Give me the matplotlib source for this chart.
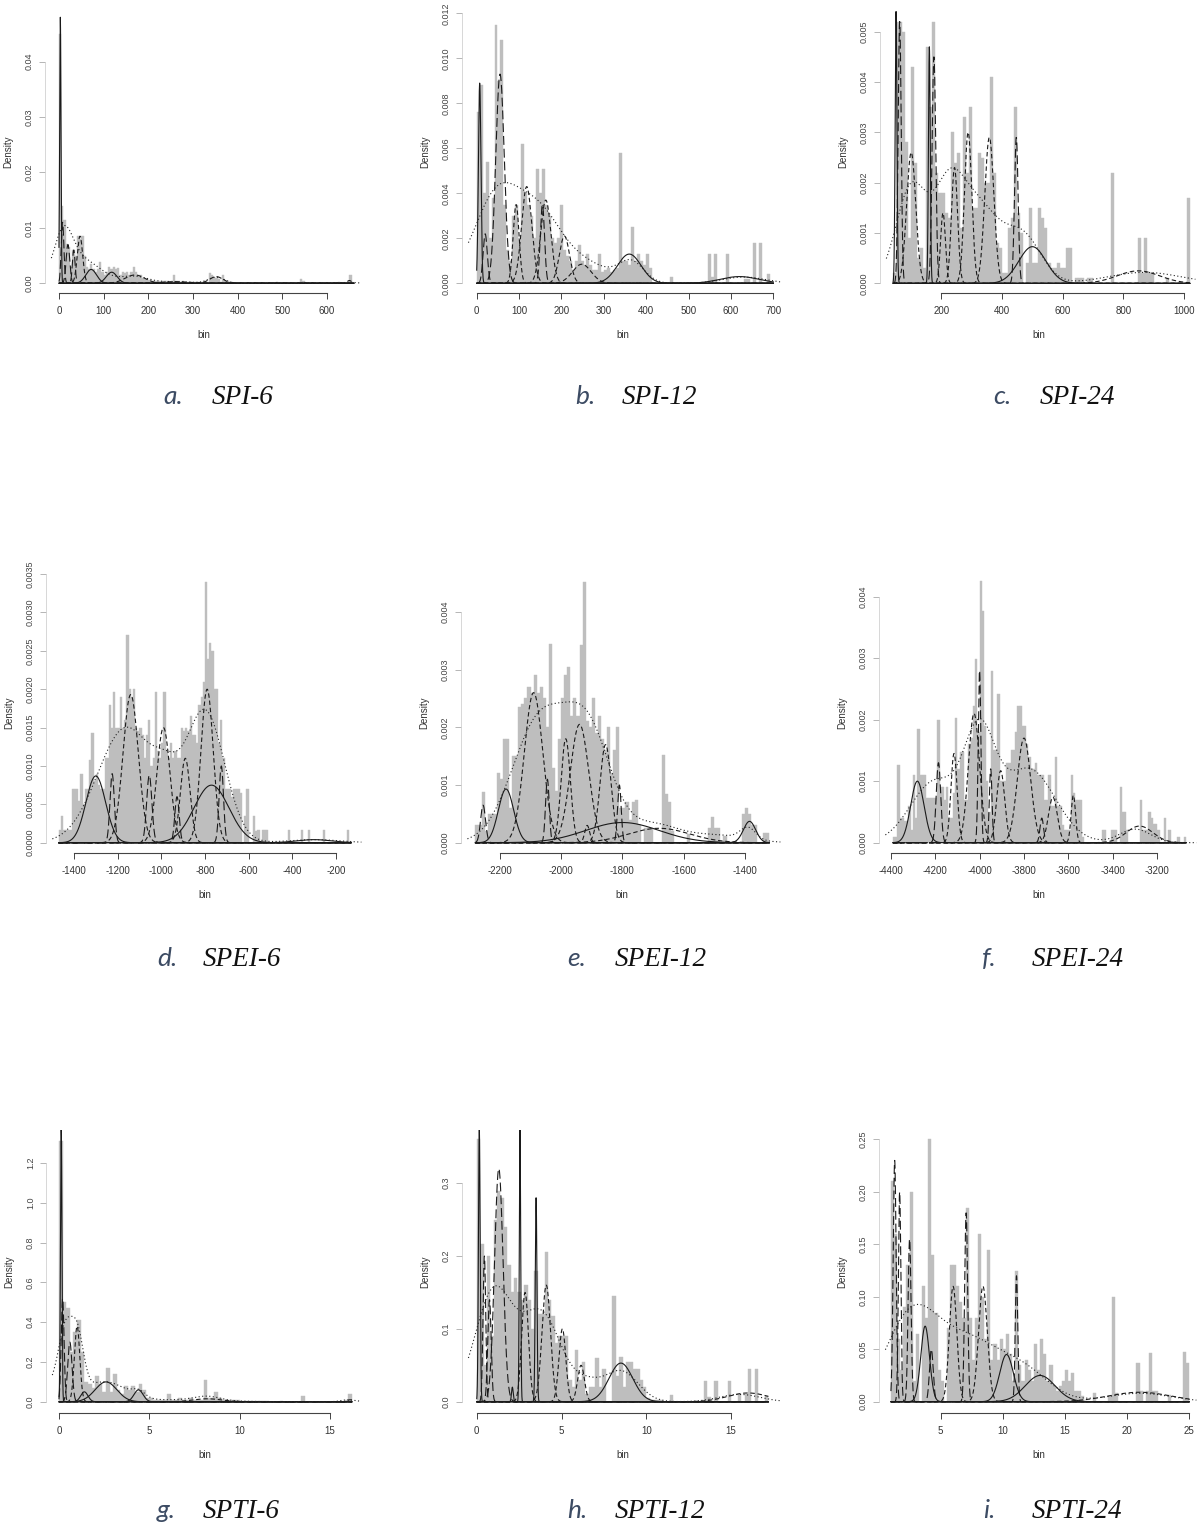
import numpy as np
import matplotlib
matplotlib.use('Agg')
import matplotlib.pyplot as plt

# ---------------- data ----------------
# a. SPI-6  (histogram: first break, bin width, densities)
spi6_start, spi6_width = 0, 5
spi6_density = np.array([
    450, 140, 115, 70, 65, 30, 60, 50, 85, 80, 85, 50, 30, 25, 35, 25, 20, 25, 38, 20,
    15, 20, 30, 25, 30, 25, 28, 15, 20, 18, 20, 15, 20, 30, 20, 15, 15, 10, 8, 8,
    6, 5, 5, 4, 5, 3, 4, 3, 4, 3, 4, 15, 5, 4, 3, 4, 3, 3, 2, 3,
    2, 2, 2, 2, 2, 2, 1, 18, 15, 12, 10, 8, 3, 15, 5, 4, 3, 2, 1, 1,
    0, 0, 0, 0, 0, 0, 0, 0, 0, 0, 0, 0, 0, 0, 0, 0, 0, 3, 0, 0,
    0, 0, 0, 0, 0, 0, 0, 0, 8, 5, 0, 0, 0, 0, 0, 0, 0, 0, 0, 0,
    0, 0, 0, 0, 0, 3, 0, 0, 0, 0, 15, 0]) * 1e-4
spi6_mean = [3, 8, 20, 33, 47, 72, 118, 170, 260, 352, 650]
spi6_sd = [1.5, 3, 4, 3, 6, 12, 12, 22, 30, 15, 5]
spi6_peak = [0.048, 0.011, 0.007, 0.006, 0.0085, 0.0025, 0.002, 0.0015, 0.0003, 0.0012, 0.0005]
spi6_lty = 'sllldssdddd'
spi6_dot_mean = [10, 45, 170, 260, 352, 650]
spi6_dot_sd = [20, 45, 30, 35, 18, 15]
spi6_dot_peak = [0.007, 0.0045, 0.0012, 0.0003, 0.0011, 0.0002]

# b. SPI-12
spi12_start, spi12_width = 0, 7
spi12_density = np.array([
    76, 88, 40, 54, 20, 38, 115, 90, 108, 35,
    15, 10, 30, 35, 20, 62, 40, 35, 30, 20,
    51, 40, 51, 35, 30, 20, 18, 20, 35, 15,
    12, 10, 6, 10, 17, 10, 8, 13, 8, 6,
    6, 13, 5, 6, 7, 5, 6, 7, 58, 10,
    10, 8, 25, 10, 13, 10, 8, 13, 7, 0,
    0, 0, 0, 0, 0, 3, 0, 0, 0, 0,
    0, 0, 0, 0, 0, 0, 0, 0, 13, 3,
    13, 0, 0, 0, 13, 0, 0, 0, 0, 0,
    2, 2, 0, 18, 0, 18, 0, 0, 4, 0]) * 1e-4
spi12_mean = [7, 20, 55, 93, 118, 155, 163, 207, 248, 360, 620]
spi12_sd = [3, 5, 10, 7, 12, 5, 12, 12, 22, 28, 45]
spi12_peak = [0.0089, 0.0022, 0.0093, 0.0035, 0.0043, 0.0035, 0.0037, 0.0021, 0.00085, 0.0013, 0.0003]
spi12_lty = 'sllddldddssd'[:11]
spi12_dot_mean = [50, 150, 250, 365, 630]
spi12_dot_sd = [55, 50, 60, 30, 50]
spi12_dot_peak = [0.004, 0.0026, 0.0009, 0.0009, 0.00028]

# c. SPI-24
spi24_start, spi24_width = 40, 10
spi24_density = np.array([
    2, 52, 52, 50, 28, 9, 43, 24, 5, 7,
    3, 47, 35, 52, 22, 18, 18, 14, 13, 30,
    24, 26, 11, 33, 22, 35, 15, 15, 26, 25,
    20, 20, 41, 22, 8, 7, 2, 2, 11, 13,
    35, 14, 10, 0, 4, 15, 4, 4, 15, 13,
    11, 4, 3, 3, 4, 3, 3, 7, 7, 0,
    1, 1, 1, 0, 1, 1, 0, 0, 0, 0,
    0, 0, 22, 0, 0, 0, 0, 0, 0, 0,
    0, 9, 2, 9, 2, 2, 0, 0, 0, 0,
    1, 0, 0, 0, 0, 0, 0, 17]) * 1e-4
spi24_mean = [50, 62, 100, 160, 175, 205, 243, 288, 358, 447, 500, 850]
spi24_sd = [3, 5, 15, 3, 6, 8, 10, 12, 15, 6, 45, 70]
spi24_peak = [0.0054, 0.0052, 0.0026, 0.0047, 0.0045, 0.0014, 0.0023, 0.0030, 0.0029, 0.0029, 0.00073, 0.00025]
spi24_lty = 'sldslddddlsd'
spi24_dot_mean = [100, 220, 320, 470, 870]
spi24_dot_sd = [50, 50, 70, 60, 120]
spi24_dot_peak = [0.0019, 0.0016, 0.0015, 0.0009, 0.00022]

# d. SPEI-6
spei6_start, spei6_width = -1470, 10
spei6_density = np.array([
    17, 35, 17, 17, 17, 17, 70, 70, 70, 55,
    90, 50, 70, 70, 108, 143, 80, 90, 75, 70,
    70, 110, 110, 180, 150, 197, 150, 150, 190, 150,
    160, 270, 200, 190, 200, 150, 145, 150, 140, 110,
    140, 160, 100, 110, 197, 120, 110, 130, 197, 120,
    110, 130, 110, 120, 110, 110, 150, 145, 150, 145,
    165, 140, 140, 130, 180, 190, 210, 340, 240, 260,
    250, 200, 200, 130, 160, 110, 70, 70, 70, 60,
    70, 70, 70, 65, 0, 35, 70, 0, 0, 35,
    15, 17, 0, 17, 17, 17, 0, 0, 0, 0,
    0, 0, 0, 0, 0, 17, 0, 0, 0, 0,
    0, 17, 0, 0, 17, 0, 0, 0, 0, 0,
    0, 17, 0, 0, 0, 0, 0, 0, 0, 0,
    0, 0, 17, 0]) * 1e-5
spei6_mean = [-1300, -1225, -1140, -1055, -990, -928, -890, -790, -770, -725, -300]
spei6_sd = [45, 10, 35, 12, 30, 10, 22, 28, 80, 10, 80]
spei6_peak = [0.00087, 0.0009, 0.00193, 0.00088, 0.0015, 0.0006, 0.0011, 0.002, 0.00075, 0.001, 0.00004]
spei6_lty = 'sldldlddsls'
spei6_dot_mean = [-1160, -980, -800, -300]
spei6_dot_sd = [130, 60, 90, 120]
spei6_dot_peak = [0.0015, 0.0004, 0.0017, 0.00004]

# e. SPEI-12
spei12_start, spei12_width = -2280, 10
spei12_density = np.array([
    30, 30, 87, 20, 50, 50, 50, 120, 110, 180,
    180, 60, 150, 150, 235, 240, 250, 270, 260, 290,
    260, 270, 250, 200, 345, 130, 90, 180, 250, 290,
    305, 220, 250, 220, 342, 452, 210, 200, 250, 190,
    220, 180, 160, 200, 120, 160, 200, 60, 60, 70,
    40, 70, 74, 30, 0, 25, 25, 25, 0, 0,
    0, 152, 85, 70, 20, 0, 0, 0, 0, 15,
    0, 0, 0, 0, 0, 0, 25, 45, 25, 25,
    0, 12, 0, 0, 0, 0, 0, 50, 60, 50,
    30, 30, 0, 0, 17, 17]) * 1e-5
spei12_mean = [-2255, -2180, -2090, -2045, -1985, -1940, -1915, -1855, -1810, -1800, -1680, -1385]
spei12_sd = [8, 25, 30, 6, 15, 30, 8, 18, 6, 120, 100, 20]
spei12_peak = [0.00065, 0.00093, 0.0026, 0.0011, 0.0018, 0.00205, 0.0003, 0.0017, 0.001, 0.00035, 0.00025, 0.00037]
spei12_lty = 'lsdlddddlsds'
spei12_dot_mean = [-2070, -1910, -1700, -1500, -1390]
spei12_dot_sd = [90, 75, 80, 100, 25]
spei12_dot_peak = [0.0021, 0.0018, 0.0003, 0.00013, 0.0002]

# f. SPEI-24
spei24_start, spei24_width = -4390, 10
spei24_density = np.array([
    10, 10, 127, 40, 40, 35, 35, 60, 20, 110,
    40, 184, 110, 110, 110, 73, 73, 73, 73, 73,
    200, 90, 90, 70, 90, 40, 40, 80, 203, 120,
    148, 148, 70, 70, 160, 170, 222, 298, 180, 425,
    377, 190, 100, 50, 279, 150, 150, 241, 100, 100,
    100, 130, 130, 150, 150, 180, 222, 222, 190, 190,
    160, 140, 120, 120, 130, 110, 110, 110, 70, 70,
    110, 60, 60, 140, 60, 60, 28, 20, 20, 20,
    110, 80, 70, 70, 70, 10, 0, 0, 0, 0,
    0, 0, 0, 0, 20, 20, 0, 0, 20, 20,
    20, 0, 90, 50, 50, 20, 0, 0, 0, 0,
    0, 70, 20, 20, 20, 50, 40, 30, 30, 20,
    0, 0, 40, 0, 20, 0, 0, 0, 10, 0,
    0, 10]) * 1e-5
spei24_mean = [-4280, -4185, -4115, -4025, -4000, -3950, -3905, -3800, -3720, -3670, -3578, -3280]
spei24_sd = [30, 10, 14, 25, 6, 6, 18, 30, 8, 20, 10, 60]
spei24_peak = [0.001, 0.0013, 0.00145, 0.0021, 0.0028, 0.0012, 0.00117, 0.0017, 0.0004, 0.00074, 0.00077, 0.00027]
spei24_lty = 'slddllddlddd'
spei24_dot_mean = [-4200, -4000, -3780, -3300]
spei24_dot_sd = [110, 70, 120, 70]
spei24_dot_peak = [0.001, 0.0016, 0.0012, 0.00022]

# g. SPTI-6
spti6_start, spti6_width = 0, 0.2
spti6_density = np.array([
    1310, 500, 470, 250, 350, 410, 250, 100, 90, 70,
    130, 90, 50, 170, 50, 140, 60, 40, 80, 60,
    80, 50, 90, 60, 20, 20, 10, 10, 10, 10,
    40, 10, 10, 20, 10, 10, 20, 10, 10, 10,
    110, 20, 20, 50, 20, 10, 10, 10, 10, 10,
    5, 5, 5, 5, 5, 5, 5, 5, 0, 0,
    0, 5, 0, 0, 0, 0, 0, 30, 0, 0,
    0, 0, 0, 0, 0, 0, 0, 0, 0, 10,
    40]) * 1e-3
spti6_mean = [0.12, 0.2, 0.6, 1.0, 1.4, 2.6, 4.4, 8.2, 16.1]
spti6_sd = [0.04, 0.08, 0.12, 0.15, 0.2, 0.6, 0.25, 0.8, 0.15]
spti6_peak = [1.37, 0.52, 0.3, 0.38, 0.05, 0.1, 0.06, 0.015, 0.01]
spti6_lty = 'slldsssdd'
spti6_dot_mean = [-0.2, 0.35, 1.0, 2.5, 4.4, 8.2, 7.0, 16.0]
spti6_dot_sd = [0.5, 0.35, 0.35, 1.2, 0.35, 0.7, 2.0, 0.4]
spti6_dot_peak = [0.1, 0.28, 0.3, 0.1, 0.03, 0.02, 0.01, 0.01]

# h. SPTI-12
spti12_start, spti12_width = 0, 0.2
spti12_density = np.array([
    360, 216, 50, 200, 90, 250, 289, 280, 240, 188,
    150, 170, 150, 140, 160, 140, 100, 180, 120, 120,
    206, 140, 117, 80, 90, 90, 90, 30, 20, 71,
    30, 55, 10, 20, 20, 60, 20, 45, 0, 0,
    145, 35, 62, 20, 55, 55, 45, 45, 30, 20,
    5, 3, 3, 3, 3, 0, 0, 9, 0, 0,
    0, 0, 0, 0, 0, 0, 0, 28, 7, 0,
    28, 0, 0, 0, 28, 0, 0, 10, 0, 10,
    45, 0, 45, 0, 0, 8]) * 1e-3
spti12_mean = [0.15, 0.45, 0.75, 1.3, 2.1, 2.55, 2.85, 3.5, 4.1, 5.05, 6.15, 8.5, 16.0]
spti12_sd = [0.05, 0.08, 0.1, 0.25, 0.05, 0.04, 0.2, 0.05, 0.25, 0.2, 0.2, 0.7, 1.2]
spti12_peak = [0.375, 0.2, 0.14, 0.32, 0.02, 0.375, 0.15, 0.28, 0.16, 0.1, 0.05, 0.053, 0.012]
spti12_lty = 'slllssdsdddsd'
spti12_dot_mean = [1.0, 3.8, 6.5, 8.5, 15.5]
spti12_dot_sd = [1.1, 1.2, 0.8, 1.0, 1.2]
spti12_dot_peak = [0.15, 0.12, 0.02, 0.042, 0.01]

# i. SPTI-24
spti24_start, spti24_width = 1.0, 0.25
spti24_density = np.array([
    210, 160, 60, 30, 90, 130, 200, 20, 65, 0,
    110, 80, 250, 140, 85, 30, 20, 0, 70, 130,
    130, 110, 95, 80, 185, 80, 40, 80, 160, 100,
    60, 145, 40, 55, 40, 60, 50, 65, 45, 20,
    125, 35, 20, 40, 30, 20, 55, 30, 60, 45,
    20, 35, 15, 10, 15, 20, 30, 20, 27, 10,
    10, 5, 0, 0, 0, 8, 0, 0, 0, 0,
    5, 100, 8, 0, 0, 0, 0, 0, 0, 37,
    10, 0, 10, 46, 10, 10, 0, 0, 0, 6,
    0, 0, 0, 0, 47, 37]) * 1e-3
spti24_mean = [1.3, 1.7, 2.5, 3.75, 4.25, 6.0, 7.05, 8.4, 10.3, 11.1, 13.0, 21.0]
spti24_sd = [0.12, 0.1, 0.12, 0.35, 0.15, 0.3, 0.12, 0.35, 0.55, 0.1, 1.2, 2.5]
spti24_peak = [0.23, 0.2, 0.155, 0.072, 0.05, 0.11, 0.18, 0.11, 0.045, 0.12, 0.025, 0.009]
spti24_lty = 'lllsldldslsd'
spti24_dot_mean = [2.5, 7.0, 12.0, 21.0]
spti24_dot_sd = [2.0, 3.0, 2.0, 2.5]
spti24_dot_peak = [0.07, 0.06, 0.02, 0.008]

caption_letters = ['a.', 'b.', 'c.', 'd.', 'e.', 'f.', 'g.', 'h.', 'i.']
caption_names = ['SPI-6', 'SPI-12', 'SPI-24', 'SPEI-6', 'SPEI-12', 'SPEI-24',
                 'SPTI-6', 'SPTI-12', 'SPTI-24']

panels = [
    (spi6_start, spi6_width, spi6_density, spi6_mean, spi6_sd, spi6_peak, spi6_lty,
     spi6_dot_mean, spi6_dot_sd, spi6_dot_peak),
    (spi12_start, spi12_width, spi12_density, spi12_mean, spi12_sd, spi12_peak, spi12_lty,
     spi12_dot_mean, spi12_dot_sd, spi12_dot_peak),
    (spi24_start, spi24_width, spi24_density, spi24_mean, spi24_sd, spi24_peak, spi24_lty,
     spi24_dot_mean, spi24_dot_sd, spi24_dot_peak),
    (spei6_start, spei6_width, spei6_density, spei6_mean, spei6_sd, spei6_peak, spei6_lty,
     spei6_dot_mean, spei6_dot_sd, spei6_dot_peak),
    (spei12_start, spei12_width, spei12_density, spei12_mean, spei12_sd, spei12_peak, spei12_lty,
     spei12_dot_mean, spei12_dot_sd, spei12_dot_peak),
    (spei24_start, spei24_width, spei24_density, spei24_mean, spei24_sd, spei24_peak, spei24_lty,
     spei24_dot_mean, spei24_dot_sd, spei24_dot_peak),
    (spti6_start, spti6_width, spti6_density, spti6_mean, spti6_sd, spti6_peak, spti6_lty,
     spti6_dot_mean, spti6_dot_sd, spti6_dot_peak),
    (spti12_start, spti12_width, spti12_density, spti12_mean, spti12_sd, spti12_peak, spti12_lty,
     spti12_dot_mean, spti12_dot_sd, spti12_dot_peak),
    (spti24_start, spti24_width, spti24_density, spti24_mean, spti24_sd, spti24_peak, spti24_lty,
     spti24_dot_mean, spti24_dot_sd, spti24_dot_peak),
]

# ---------------- layout (pixels on a 1200x1527 canvas) ----------------
W, H = 1200, 1527
# plot region: left, top, right, bottom
boxes = [
    (45, 10, 363, 293), (462, 10, 783, 293), (880, 10, 1197, 293),
    (46, 572, 363, 852.7), (461, 572, 782, 852.7), (879, 572, 1198, 852.7),
    (46, 1130, 363, 1412.7), (462, 1130, 783, 1412.7), (879, 1130, 1198, 1412.7),
]
xlims = [(-31.3, 680.5), (-34.7, 722.7), (-3, 1043.6),
         (-1528, -76), (-2327, -1279), (-4452.6, -3017),
         (-0.72, 16.82), (-0.87, 18.06), (0.04, 25.7)]
ylims = [(-0.00175, 0.0493), (-0.00043, 0.01215), (-0.00019, 0.00543),
         (-0.00013, 0.003527), (-0.000173, 0.00469), (-0.000163, 0.0044),
         (-0.055, 1.367), (-0.0151, 0.373), (-0.0105, 0.259)]
xticks = [np.arange(0, 601, 100), np.arange(0, 701, 100), np.arange(200, 1001, 200),
          np.arange(-1400, -199, 200), np.arange(-2200, -1399, 200), np.arange(-4400, -3199, 200),
          [0, 5, 10, 15], [0, 5, 10, 15], [5, 10, 15, 20, 25]]
yticks = [(0.04, 0.01, 2), (0.012, 0.002, 3), (0.005, 0.001, 3),
          (0.0035, 0.0005, 4), (0.004, 0.001, 3), (0.004, 0.001, 3),
          (1.2, 0.2, 1), (0.3, 0.1, 1), (0.25, 0.05, 2)]
caption_pos = [(163, 212, 404), (575, 622, 404), (993, 1040, 404),
               (157, 203, 966), (567, 615, 966), (982, 1032, 966),
               (157, 203, 1518), (567, 615, 1518), (983, 1032, 1518)]

LTY = {'s': '-', 'l': (0, (8, 3.5)), 'd': (0, (4, 2.5))}
BAR = '#bebebe'


def gauss(x, mean, sd, peak):
    return peak * np.exp(-0.5 * ((x - mean) / sd) ** 2)


plt.rcParams['font.family'] = ['Liberation Sans', 'DejaVu Sans']
fig = plt.figure(figsize=(W / 100, H / 100), dpi=100)

for k, panel in enumerate(panels):
    start, width, dens, mean, sd, peak, lty, dmean, dsd, dpeak = panel
    left, top, right, bottom = boxes[k]
    ax = fig.add_axes([left / W, 1 - bottom / H, (right - left) / W, (bottom - top) / H])
    ax.patch.set_alpha(0)

    edges = start + width * np.arange(len(dens))
    ax.bar(edges, dens, width=width, align='edge', color=BAR,
           edgecolor=BAR, linewidth=0.3, zorder=1)

    x0, x1 = edges[0], edges[-1] + width
    xs = np.linspace(x0, x1, 4000)
    for m, s, p, code in zip(mean, sd, peak, lty):
        ax.plot(xs, gauss(xs, m, s, p), color='#1a1a1a', lw=0.8,
                linestyle=LTY[code], zorder=3)

    lo, hi = xlims[k]
    xd = np.linspace(lo + 0.02 * (hi - lo), hi - 0.005 * (hi - lo), 1500)
    yd = sum(gauss(xd, m, s, p) for m, s, p in zip(dmean, dsd, dpeak))
    ax.plot(xd, yd, color='#222222', lw=0.8, linestyle=(0, (1, 2.2)), zorder=3)

    ax.set_xlim(lo, hi)
    ax.set_ylim(*ylims[k])

    ytop, ystep, nd = yticks[k]
    yt = np.arange(0, ytop + ystep / 2, ystep)
    ax.set_yticks(yt)
    ax.set_yticklabels([f'{v:.{nd}f}' for v in yt])
    ax.set_xticks(xticks[k])
    ax.set_xticklabels([str(int(v)) for v in xticks[k]])

    for side in ('top', 'right'):
        ax.spines[side].set_visible(False)
    ax.spines['bottom'].set_bounds(xticks[k][0], xticks[k][-1])
    ax.spines['bottom'].set_color('#444444')
    ax.spines['bottom'].set_linewidth(0.8)
    ax.spines['left'].set_bounds(yt[0], yt[-1])
    ax.spines['left'].set_color('#c8c8c8')
    ax.spines['left'].set_linewidth(0.5)

    ax.tick_params(axis='x', direction='out', length=4, width=0.7, colors='#444444',
                   labelsize=7, labelcolor='#333333', pad=5.5)
    ax.tick_params(axis='y', direction='out', length=4, width=0.6, colors='#aaaaaa',
                   labelsize=6.5, labelcolor='#444444', pad=4, labelrotation=90)
    for lab in ax.get_yticklabels():
        lab.set_va('center')

    cx = (left + right) / 2
    fig.text(cx / W, 1 - (bottom + 42) / H, 'bin', ha='center', va='center',
             fontsize=7, color='#333333')
    fig.text((left - 37) / W, 1 - ((top + bottom) / 2) / H, 'Density', rotation=90,
             ha='center', va='center', fontsize=7, color='#333333')

    lx, nx, by = caption_pos[k]
    fig.text(lx / W, 1 - by / H, caption_letters[k], ha='left', va='baseline',
             fontsize=19, style='italic', color='#3c4b63', family=['Lato', 'DejaVu Sans'])
    fig.text(nx / W, 1 - by / H, caption_names[k], ha='left', va='baseline',
             fontsize=19.5, style='italic', color='#111111',
             family=['Liberation Serif', 'DejaVu Serif'])

fig.savefig('out.png', dpi=100, facecolor='white')
